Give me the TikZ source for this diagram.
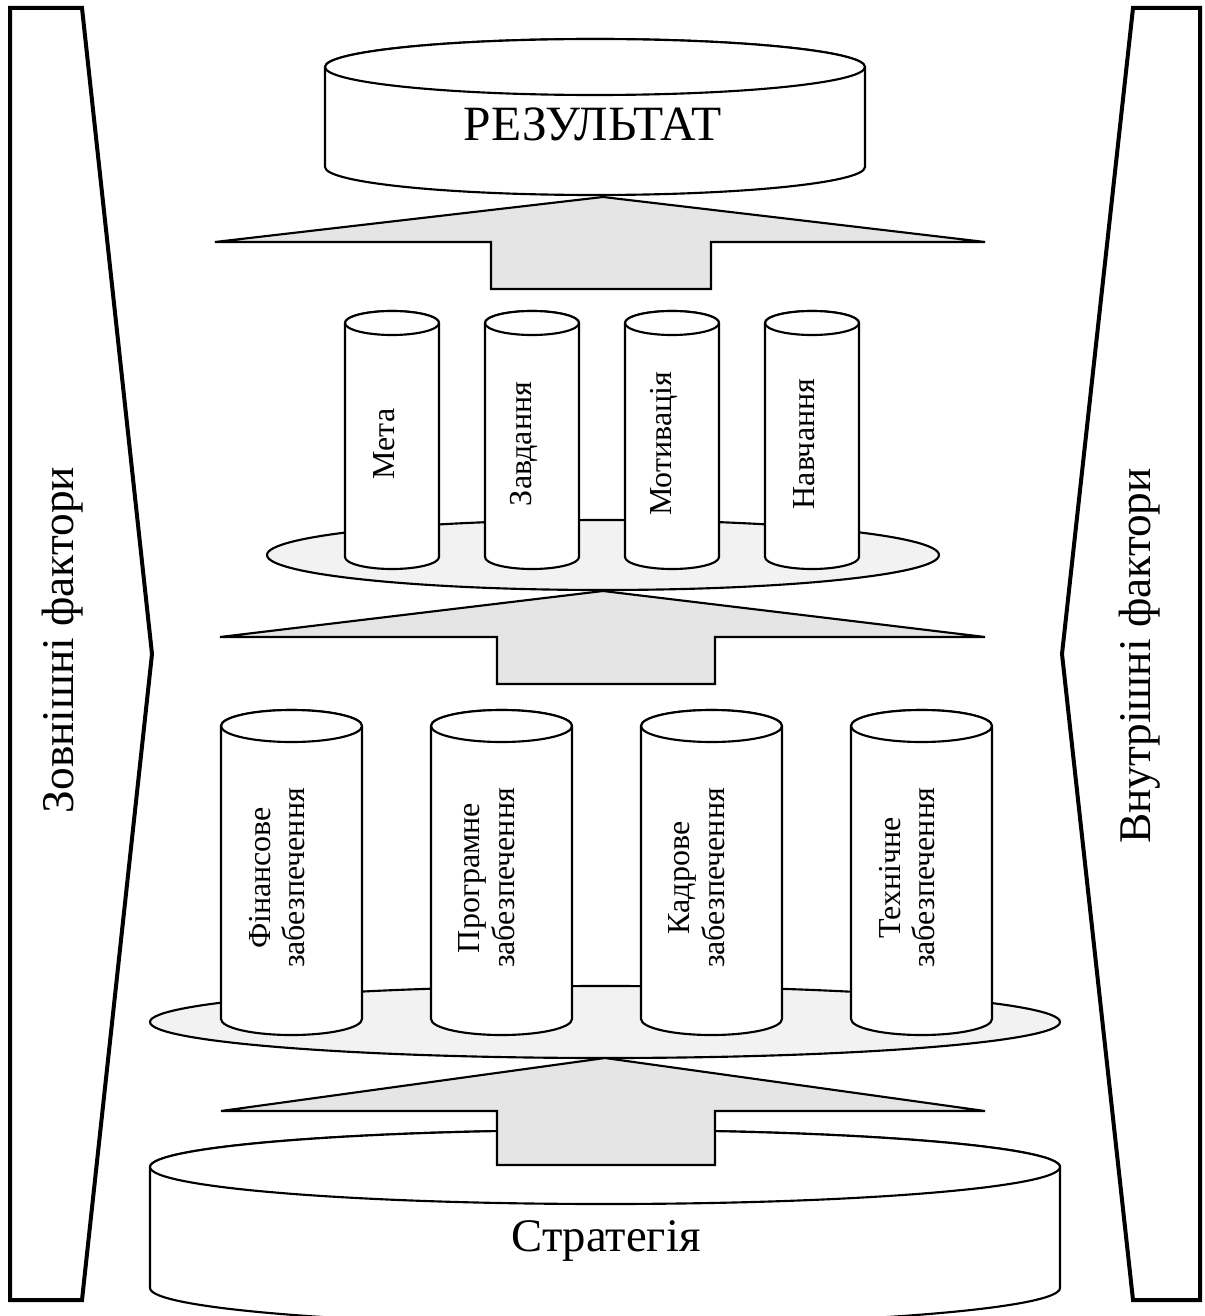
\documentclass[tikz,border=0pt]{standalone}
\usepackage{fontspec}
\setmainfont{Liberation Serif}
\newcommand\drawcyl[5]{%
  \path[cylbody] ({#1-#4},#2) -- ({#1-#4},#3)
     arc[start angle=180,end angle=0,x radius=#4,y radius=#5]
     -- ({#1+#4},#2)
     arc[start angle=0,end angle=-180,x radius=#4,y radius=#5] -- cycle;
  \path[cylbody] (#1,#2) ellipse[x radius=#4,y radius=#5];}
% apex x, apex y, base y, stem bottom y, tip left, tip right, stem left, stem right
\newcommand\drawupar[8]{%
  \path[arrowfig] (#1,#2) -- (#6,#3) -- (#8,#3) -- (#8,#4) -- (#7,#4) -- (#7,#3) -- (#5,#3) -- cycle;}
\begin{document}
\begin{tikzpicture}[x=0.75pt,y=-0.75pt,
  panel/.style={draw=black,line width=3pt,line join=miter},
  arrowfig/.style={draw=black,line width=1.6pt,fill=gray!20,line join=miter},
  dish/.style={draw=black,line width=1.6pt,fill=gray!10},
  cylbody/.style={draw=black,line width=1.6pt,fill=white},
  big/.style={font=\fontsize{34}{40}\selectfont,inner sep=0pt},
  title/.style={font=\fontsize{37}{42}\selectfont,inner sep=0pt},
  small/.style={font=\fontsize{24}{26}\selectfont,align=center,rotate=90,inner sep=0pt}]
\useasboundingbox (0,0) rectangle (1204,1316);
\clip (0,0) rectangle (1204,1316);

% side panels
\draw[panel] (10,8) -- (82,8) -- (152,654) -- (82,1300) -- (10,1300) -- cycle;
\draw[panel] (1200,8) -- (1133,8) -- (1062,654) -- (1133,1300) -- (1200,1300) -- cycle;
\node[big,rotate=90,anchor=base] (ext) at (73,640) {Зовнішні фактори};
\node[big,rotate=90,anchor=base] (int) at (1150,656) {Внутрішні фактори};

% result
\drawcyl{595}{67}{167}{270}{28}
\node[title,anchor=base] (res) at (593,141) {РЕЗУЛЬТАТ};
\drawupar{603}{197}{242}{289}{215}{985}{491}{711}

% middle level
\path[dish] (603,555) ellipse[x radius=336,y radius=35];
\drawcyl{392}{323}{557}{47}{12}
\drawcyl{532}{323}{557}{47}{12}
\drawcyl{672}{323}{557}{47}{12}
\drawcyl{812}{323}{557}{47}{12}
\node[small] (meta) at (384,444) {Мета};
\node[small] (zavd) at (524,444) {Завдання};
\node[small] (motyv) at (664,444) {Мотивація};
\node[small] (navch) at (804,444) {Навчання};
\drawupar{603}{591}{637}{684}{220}{985}{497}{715}

% lower level
\path[dish] (605,1022) ellipse[x radius=455,y radius=36];
\drawcyl{291.5}{726}{1019}{70.5}{16}
\drawcyl{501.5}{726}{1019}{70.5}{16}
\drawcyl{711.5}{726}{1019}{70.5}{16}
\drawcyl{921.5}{726}{1019}{70.5}{16}
\node[small] (fin) at (277,878) {Фінансове\\забезпечення};
\node[small] (prog) at (487,878) {Програмне\\забезпечення};
\node[small] (kadr) at (697,878) {Кадрове\\забезпечення};
\node[small] (tekh) at (907,878) {Технічне\\забезпечення};

% strategy
\drawcyl{605}{1167}{1288}{455}{37}
\node[big,font=\fontsize{35}{40}\selectfont,anchor=base] (strat) at (606,1251) {Стратегія};
\drawupar{605}{1058}{1111}{1165}{221}{985}{497}{715}
\end{tikzpicture}
\end{document}
